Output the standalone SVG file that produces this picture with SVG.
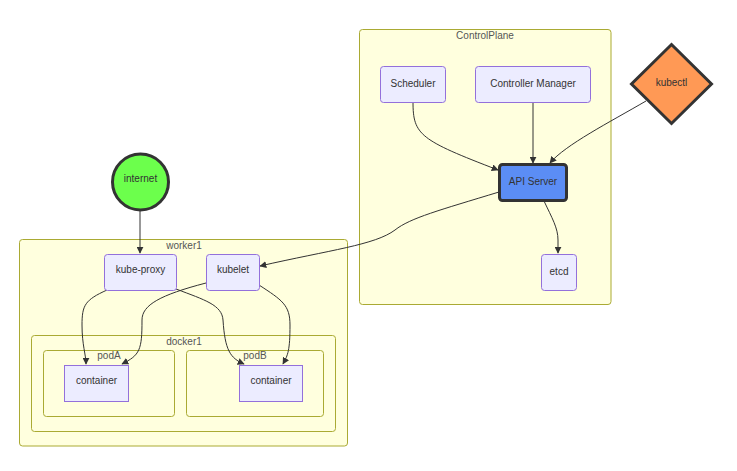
<svg xmlns="http://www.w3.org/2000/svg" width="737" height="471" viewBox="0 0 737 471">
<defs>
<marker id="arr" viewBox="0 0 10 10" refX="9" refY="5" markerWidth="7" markerHeight="7" orient="auto-start-reverse" markerUnits="userSpaceOnUse">
<path d="M0,0 L10,5 L0,10 z" fill="#333"/>
</marker>
<style>
.cl{fill:#ffffde;stroke:#aaaa33;stroke-width:1}
.nd{fill:#ececff;stroke:#9370db;stroke-width:1}
.t{font-family:"Liberation Sans",Arial,sans-serif;font-size:10px;fill:#333;text-anchor:middle;dominant-baseline:central}
.ct{font-family:"Liberation Sans",Arial,sans-serif;font-size:10px;fill:#555;text-anchor:middle;dominant-baseline:central}
.e{fill:none;stroke:#333;stroke-width:1;marker-end:url(#arr)}
</style>
</defs>
<rect width="737" height="471" fill="#fff"/>
<g id="ControlPlane">
<rect class="cl" x="359.5" y="29.5" width="251.5" height="275" rx="3"/>
<text class="ct" x="485" y="35">ControlPlane</text>
</g>
<g id="worker1">
<rect class="cl" x="19.5" y="239.5" width="328" height="206.5" rx="3"/>
<text class="ct" x="184" y="245">worker1</text>
</g>
<g id="docker1">
<rect class="cl" x="31.5" y="335.5" width="304" height="96" rx="3"/>
<text class="ct" x="184" y="341">docker1</text>
</g>
<g id="podA">
<rect class="cl" x="43.5" y="350.5" width="131" height="66" rx="3"/>
<text class="ct" x="109" y="355">podA</text>
</g>
<g id="podB">
<rect class="cl" x="186.5" y="350.5" width="137" height="66" rx="3"/>
<text class="ct" x="255" y="355">podB</text>
</g>
<g id="edges">
<path class="e" d="M413,102 C413,135 420,140 498,170"/>
<path class="e" d="M533,102 L533,163"/>
<path class="e" d="M646,101 C610,122 565,145 550,163"/>
<path class="e" d="M499,192 C440,210 410,218 395,230 C375,245 330,250 260,266"/>
<path class="e" d="M544,201 C552,218 558,228 558,240 L558,253"/>
<path class="e" d="M140,211 L140,253"/>
<path class="e" d="M107,290 C85,300 82,305 82,325 C82,345 86,355 86,364"/>
<path class="e" d="M176,289 C205,300 222,305 223,320 C225,350 230,358 244,364"/>
<path class="e" d="M206,283 C160,295 142,305 142,320 C142,350 140,355 122,364"/>
<path class="e" d="M259,285 C282,300 290,305 290,325 C290,350 288,355 283,364"/>
</g>
<g id="Scheduler">
<rect class="nd" x="380.5" y="66.5" width="65" height="36" rx="3"/>
<text class="t" x="413" y="83">Scheduler</text>
</g>
<g id="ControllerManager">
<rect class="nd" x="475.5" y="66.5" width="115" height="36" rx="3"/>
<text class="t" x="533" y="83">Controller Manager</text>
</g>
<g id="APIServer">
<rect x="499.5" y="164.5" width="67" height="36" rx="3" fill="#5b8df5" stroke="#333" stroke-width="3"/>
<text class="t" x="533" y="181">API Server</text>
</g>
<g id="etcd">
<rect class="nd" x="541.5" y="254.5" width="35" height="36" rx="3"/>
<text class="t" x="559" y="271">etcd</text>
</g>
<g id="kubectl">
<polygon points="671.5,44.5 711.5,84 671.5,123.5 631.5,84" fill="#ff9955" stroke="#333" stroke-width="3"/>
<text class="t" x="671.5" y="82">kubectl</text>
</g>
<g id="internet">
<circle cx="140.5" cy="182" r="28" fill="#6cff4c" stroke="#333" stroke-width="3"/>
<text class="t" x="140.5" y="178">internet</text>
</g>
<g id="kubeproxy">
<rect class="nd" x="104.5" y="254.5" width="72" height="36" rx="3"/>
<text class="t" x="140.5" y="269">kube-proxy</text>
</g>
<g id="kubelet">
<rect class="nd" x="206.5" y="254.5" width="53" height="36" rx="3"/>
<text class="t" x="233" y="269">kubelet</text>
</g>
<g id="containerA">
<rect class="nd" x="64.5" y="365.5" width="64" height="36" rx="0"/>
<text class="t" x="96.5" y="380">container</text>
</g>
<g id="containerB">
<rect class="nd" x="239.5" y="365.5" width="63" height="36" rx="0"/>
<text class="t" x="271" y="380">container</text>
</g>
</svg>
